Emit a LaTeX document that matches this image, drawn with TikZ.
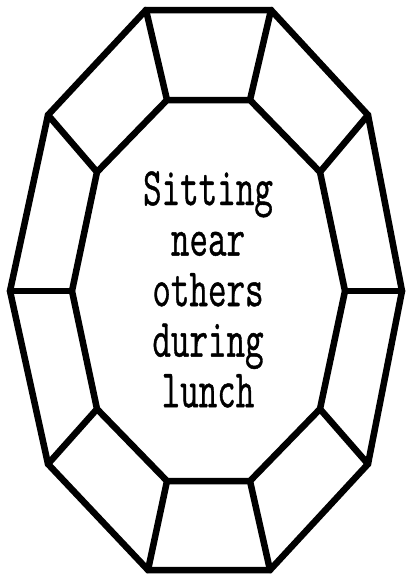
\documentclass[tikz,border=0pt]{standalone}
\usepackage{tikz}
\usepackage{graphicx}
\usepackage{fontspec}
\newfontfamily\labelfont{Latin Modern Mono}[FakeBold=0.9]
\begin{document}
\begin{tikzpicture}[x=1pt, y=-1pt,
    wall/.style={black, line width=6.5pt, line join=miter, line cap=round}]
  \useasboundingbox (0,0) rectangle (405,579);
  % outer ring
  \coordinate (o1) at (146,10);
  \coordinate (o2) at (271,10);
  \coordinate (o3) at (368,115);
  \coordinate (o4) at (402,291);
  \coordinate (o5) at (368,464);
  \coordinate (o6) at (270,570);
  \coordinate (o7) at (148,570);
  \coordinate (o8) at (48,464);
  \coordinate (o9) at (10,291);
  \coordinate (o10) at (48,115);
  % inner ring
  \coordinate (i1) at (167,100);
  \coordinate (i2) at (250,100);
  \coordinate (i3) at (320,172);
  \coordinate (i4) at (345,291);
  \coordinate (i5) at (320,409);
  \coordinate (i6) at (250,481);
  \coordinate (i7) at (167,481);
  \coordinate (i8) at (97,409);
  \coordinate (i9) at (72,291);
  \coordinate (i10) at (97,172);
  \draw[wall] (o1) -- (o2) -- (o3) -- (o4) -- (o5) -- (o6) -- (o7) -- (o8) -- (o9) -- (o10) -- cycle;
  \draw[wall] (i1) -- (i2) -- (i3) -- (i4) -- (i5) -- (i6) -- (i7) -- (i8) -- (i9) -- (i10) -- cycle;
  \foreach \k in {1,...,10}
    \draw[wall] (o\k) -- (i\k);
  \node[inner sep=0pt, anchor=base] (label) at (208,205)
    {\scalebox{1}[1.5]{\fontsize{36}{33.7}\selectfont\labelfont
      \begin{tabular}[t]{@{}c@{}}Sitting\\near\\others\\during\\lunch\end{tabular}}};
\end{tikzpicture}
\end{document}
